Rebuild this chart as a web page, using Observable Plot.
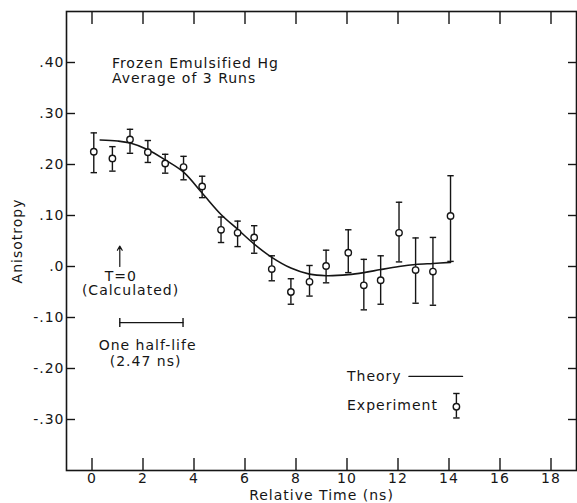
<!DOCTYPE html>
<html><head><meta charset="utf-8">
<script src="https://cdn.jsdelivr.net/npm/d3@7"></script>
<script src="https://cdn.jsdelivr.net/npm/@observablehq/plot@0.6"></script>
<style>body{margin:0;background:#fff}</style>
</head><body><div id="chart"></div>
<script>
// Experiment (average of 3 runs)
const expTime  = [0.07,0.80,1.49,2.19,2.87,3.59,4.32,5.06,5.71,6.36,7.05,7.80,8.53,9.18,10.05,10.66,11.32,12.04,12.69,13.37,14.06];
const expValue = [0.225,0.212,0.249,0.224,0.202,0.195,0.157,0.072,0.066,0.057,-0.005,-0.050,-0.030,0.001,0.027,-0.037,-0.027,0.066,-0.007,-0.010,0.099];
const expHigh  = [0.262,0.235,0.269,0.247,0.220,0.216,0.177,0.097,0.089,0.080,0.021,-0.024,0.002,0.032,0.072,0.014,0.021,0.126,0.056,0.057,0.178];
const expLow   = [0.184,0.187,0.222,0.204,0.183,0.170,0.135,0.047,0.039,0.026,-0.028,-0.074,-0.058,-0.032,-0.012,-0.085,-0.074,0.009,-0.072,-0.076,0.010];

// Theory curve
const theoryTime  = [0.32,1.0,1.5,2.19,2.87,3.59,4.32,5.06,5.71,6.36,7.05,7.80,8.53,9.18,10.05,10.66,11.32,12.04,12.69,13.37,14.06];
const theoryValue = [0.248,0.246,0.242,0.229,0.209,0.185,0.144,0.102,0.073,0.044,0.018,-0.003,-0.015,-0.018,-0.016,-0.012,-0.006,0.000,0.004,0.006,0.008];

// Axes
const xTicks = [0,2,4,6,8,10,12,14,16,18];
const yTicks = [-0.3,-0.2,-0.1,0,0.1,0.2,0.3,0.4];
const yTickLabels = ["-.30","-.20","-.10",".0",".10",".20",".30",".40"];

// Annotations (data units)
const titleLines = ["Frozen Emulsified Hg","Average of 3 Runs"];
const titlePos = [0.78, 0.384];
const arrowX = 1.09, arrowY = [0.0, 0.040];
const t0Labels = ["T=0","(Calculated)"], t0X = [1.13, 1.51], t0Y = [-0.019, -0.048];
const halfLife = [1.09, 3.57], halfLifeY = -0.110;
const hlLabels = ["One half-life","(2.47 ns)"], hlX = [2.18, 2.10], hlY = [-0.155, -0.186];
const legendLabels = ["Theory","Experiment"], legendTextX = 10.0, legendY = [-0.2155, -0.273];
const legendLineX = [12.43, 14.53];
const legendMarker = {t:14.29, v:-0.275, hi:-0.249, lo:-0.297};

const expData = expTime.map((t,i)=>({t, v:expValue[i], hi:expHigh[i], lo:expLow[i]}));
const allExp = expData.concat([legendMarker]);
const theory = theoryTime.map((t,i)=>({t, v:theoryValue[i]}));
const capH = {draw(ctx,size){const r=Math.sqrt(size/Math.PI); ctx.moveTo(-r,0); ctx.lineTo(r,0);}};
const capV = {draw(ctx,size){const r=Math.sqrt(size/Math.PI); ctx.moveTo(0,-r); ctx.lineTo(0,r);}};
const ink = "#151515";

const chart = Plot.plot({
  width: 577, height: 503,
  marginLeft: 66, marginRight: 1, marginTop: 11, marginBottom: 33,
  x: {domain: [-1, 19]},
  y: {domain: [-0.4, 0.5]},
  style: {fontFamily: "DejaVu Sans", fontSize: "14px", color: ink, background: "#fff", letterSpacing: "1px"},
  marks: [
    Plot.frame({stroke: ink, strokeWidth: 1.6}),
    Plot.axisX({ticks: xTicks, tickSize: 0, tickPadding: 3, label: "Relative Time (ns)", labelAnchor: "center", labelOffset: 29, labelArrow: "none"}),
    Plot.axisX({ticks: xTicks, tickSize: -12, strokeWidth: 1.4, fill: "none", label: null}),
    Plot.axisX({anchor: "top", ticks: xTicks, tickSize: -12, strokeWidth: 1.4, fill: "none", label: null}),
    Plot.axisY({ticks: yTicks, tickSize: 0, tickPadding: 2, tickFormat: d => yTickLabels[yTicks.indexOf(d)], label: "Anisotropy", labelAnchor: "center", labelOffset: 54, labelArrow: "none"}),
    Plot.axisY({ticks: yTicks, tickSize: -9, strokeWidth: 1.4, fill: "none", label: null}),
    Plot.axisY({anchor: "right", ticks: yTicks, tickSize: -9, strokeWidth: 1.4, fill: "none", label: null}),
    // theory
    Plot.line(theory, {x: "t", y: "v", curve: "catmull-rom", stroke: ink, strokeWidth: 1.6}),
    Plot.line(legendLineX.map(x => ({x, y: legendY[0]})), {x: "x", y: "y", stroke: ink, strokeWidth: 1.4}),
    // error bars
    Plot.ruleX(allExp, {x: "t", y1: "lo", y2: "hi", stroke: ink, strokeWidth: 1.4}),
    Plot.dot(allExp, {x: "t", y: "hi", symbol: capH, r: 3.2, stroke: ink, strokeWidth: 1.4, fill: "none"}),
    Plot.dot(allExp, {x: "t", y: "lo", symbol: capH, r: 3.2, stroke: ink, strokeWidth: 1.4, fill: "none"}),
    Plot.dot(allExp, {x: "t", y: "v", r: 3.2, stroke: ink, strokeWidth: 1.4, fill: "#fff"}),
    // title text
    Plot.text([titleLines.join("\n")], {x: titlePos[0], y: titlePos[1], text: d => d, textAnchor: "start", lineHeight: 1.1, fill: ink}),
    // T=0 arrow
    Plot.arrow([{x: arrowX, y1: arrowY[0], y2: arrowY[1]}], {x1: "x", x2: "x", y1: "y1", y2: "y2", stroke: ink, strokeWidth: 1.2, headLength: 6}),
    Plot.text(t0Labels.map((s,i)=>({s, x: t0X[i], y: t0Y[i]})), {x: "x", y: "y", text: "s", fill: ink}),
    // half-life bar
    Plot.line(halfLife.map(x => ({x, y: halfLifeY})), {x: "x", y: "y", stroke: ink, strokeWidth: 1.2}),
    Plot.dot(halfLife.map(x => ({x, y: halfLifeY})), {x: "x", y: "y", symbol: capV, r: 4.5, stroke: ink, strokeWidth: 1.4, fill: "none"}),
    Plot.text(hlLabels.map((s,i)=>({s, x: hlX[i], y: hlY[i]})), {x: "x", y: "y", text: "s", fill: ink}),
    // legend
    Plot.text(legendLabels.map((s,i)=>({s, x: legendTextX, y: legendY[i]})), {x: "x", y: "y", text: "s", textAnchor: "start", fill: ink})
  ]
});
document.getElementById("chart").appendChild(chart);
</script>
</body></html>
